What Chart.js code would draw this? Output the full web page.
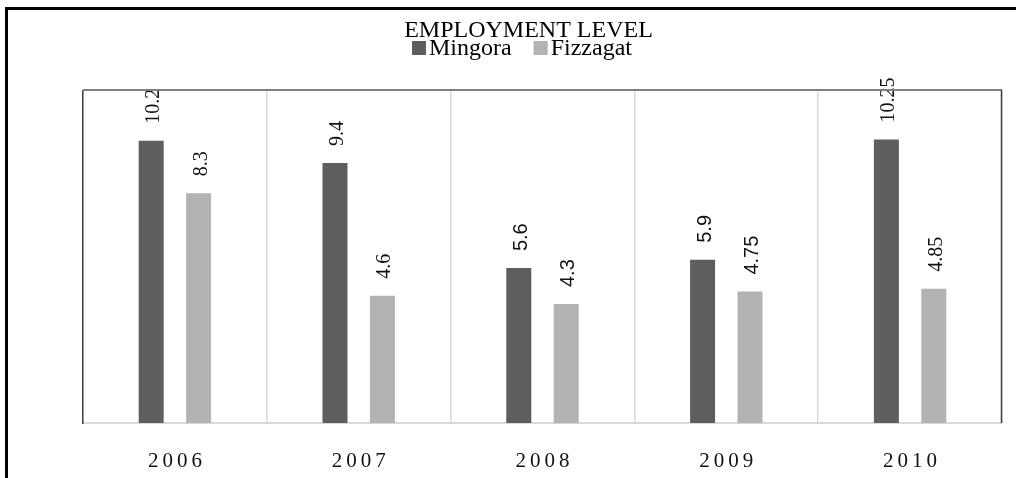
<!DOCTYPE html>
<html>
<head>
<meta charset="utf-8">
<script src="https://cdn.jsdelivr.net/npm/chart.js@4.4.1/dist/chart.umd.min.js"></script>
<style>
  html,body{margin:0;padding:0;background:#fff;overflow:hidden}
  #frame{position:absolute;left:5px;top:7px;width:1100px;height:600px;border-left:3px solid #000;border-top:3px solid #000}
  #c{position:absolute;left:0;top:0}
</style>
</head>
<body>
<div id="frame"></div>
<canvas id="c" width="1016" height="478"></canvas>
<script>
const years = ['2006','2007','2008','2009','2010'];
const mingora = [10.2, 9.4, 5.6, 5.9, 10.25];
const fizzagat = [8.3, 4.6, 4.3, 4.75, 4.85];
const seriesNames = ['Mingora','Fizzagat'];
const yMax = 12;

const SERIF = '"Liberation Serif","Times New Roman",serif';
const SANS = '"Liberation Sans",Arial,sans-serif';
// the 2008 and 2009 labels are set in a sans face in the original
const labelFace = [SERIF, SERIF, SANS, SANS, SERIF];

const valueLabels = {
  id:'valueLabels',
  afterDatasetsDraw(chart){
    const ctx = chart.ctx;
    chart.data.datasets.forEach((ds, di) => {
      chart.getDatasetMeta(di).data.forEach((bar, i) => {
        ctx.save();
        ctx.translate(bar.x, bar.y - 17);
        ctx.rotate(-Math.PI/2);
        ctx.font = `20px ${labelFace[i]}`;
        ctx.fillStyle = '#111';
        ctx.textAlign = 'left';
        ctx.textBaseline = 'alphabetic';
        ctx.fillText(String(ds.data[i]), 0, 8);
        ctx.restore();
      });
    });
  }
};

const plotFrame = {
  id:'plotFrame',
  afterDraw(chart){
    const {ctx, chartArea:a, scales:{x}} = chart;
    ctx.save();
    ctx.strokeStyle = '#808080'; ctx.lineWidth = 2;
    ctx.beginPath(); ctx.moveTo(a.left, a.top - 1); ctx.lineTo(a.right, a.top - 1); ctx.stroke();
    ctx.strokeStyle = '#404040'; ctx.lineWidth = 1.5;
    ctx.beginPath(); ctx.moveTo(a.right - 0.5, a.top - 1); ctx.lineTo(a.right - 0.5, a.bottom); ctx.stroke();
    // category labels, letter-spaced like the original
    ctx.font = `21px ${SERIF}`;
    ctx.fillStyle = '#111';
    ctx.textAlign = 'center';
    ctx.textBaseline = 'alphabetic';
    ctx.letterSpacing = '4px';
    years.forEach((y, i) => ctx.fillText(y, x.getPixelForValue(i) + 2, a.bottom + 44));
    ctx.letterSpacing = '0px';
    // legend
    ctx.font = `24px ${SERIF}`;
    ctx.textAlign = 'left';
    let lx = 412;
    chart.data.datasets.forEach(ds => {
      ctx.fillStyle = ds.backgroundColor;
      ctx.fillRect(lx, 41, 14, 14);
      ctx.fillStyle = '#000';
      ctx.fillText(ds.label, lx + 17, 55);
      lx += 17 + ctx.measureText(ds.label).width + 22;
    });
    ctx.restore();
  }
};

new Chart(document.getElementById('c'), {
  type:'bar',
  data:{
    labels: years,
    datasets:[
      { label: seriesNames[0], data: mingora, backgroundColor:'#5e5e5e' },
      { label: seriesNames[1], data: fizzagat, backgroundColor:'#b3b3b3' }
    ]
  },
  options:{
    responsive:false, animation:false, devicePixelRatio:1,
    categoryPercentage:0.516, barPercentage:0.527,
    layout:{ padding:{ left:55, right:14, top:0, bottom:55 } },
    plugins:{
      legend:{ display:false },
      tooltip:{ enabled:false },
      title:{ display:true, text:'EMPLOYMENT LEVEL', color:'#000',
        font:{ family:SERIF, size:24, weight:'normal', lineHeight:1 },
        padding:{ top:19, bottom:48 } }
    },
    scales:{
      x:{ z:1, ticks:{ display:false },
          grid:{ offset:true, color:'#d9d9d9', lineWidth:1.5, drawTicks:false },
          border:{ color:'#d9d9d9', width:2 } },
      y:{ min:0, max:yMax, ticks:{ display:false }, grid:{ display:false },
          border:{ color:'#404040', width:1.5 },
          afterFit: s => { s.width = 28; } }
    }
  },
  plugins:[valueLabels, plotFrame]
});
</script>
</body>
</html>
